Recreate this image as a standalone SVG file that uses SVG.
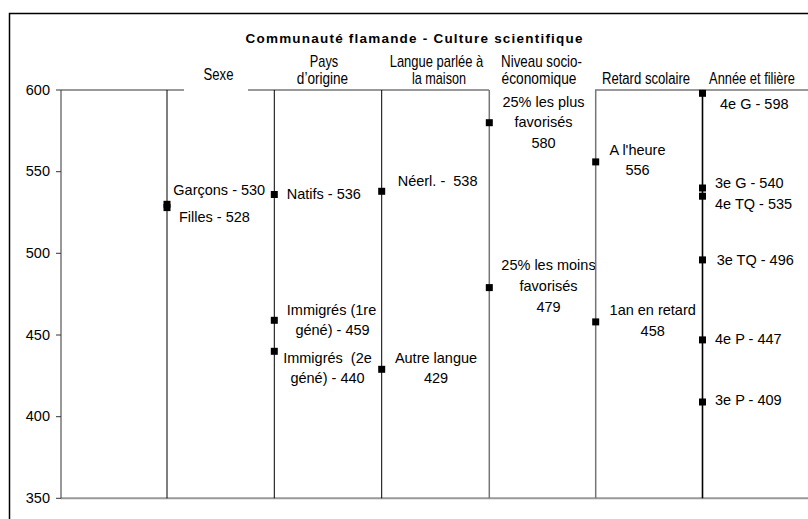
<svg xmlns="http://www.w3.org/2000/svg" width="808" height="519" viewBox="0 0 808 519">
<style>
  text{font-family:"Liberation Sans",Arial,sans-serif;fill:#000}
  .lbl{font-size:14.5px}
  .mid{text-anchor:middle}
  .hdr{font-size:16px;text-anchor:middle}
  .val{font-size:14.5px;text-anchor:end}
  .title{font-size:13.5px;font-weight:bold}
  .grid{stroke:#999;stroke-width:2;fill:none}
  .tick{stroke:#333;stroke-width:1}
  .ax{stroke:#000;stroke-width:1}
  .axg{stroke:#777;stroke-width:1.5}
  .axb{stroke:#000;stroke-width:1.6}
</style>
<defs>
  <rect id="m" x="-3.5" y="-3.5" width="7" height="7" fill="#000"/>
</defs>
<rect x="0" y="0" width="808" height="519" fill="#fff"/>
<path d="M9.5,519 V13.5 H808" fill="none" stroke="#000" stroke-width="1.5"/>

<text class="title" x="245.5" y="43" textLength="337">Communauté flamande - Culture scientifique</text>

<g id="headers">
  <g transform="translate(218.5,0) scale(0.82,1)"><text class="hdr" x="0" y="80.5">Sexe</text></g>
  <g transform="translate(324,0) scale(0.8,1)"><text class="hdr" x="0" y="67">Pays</text></g>
  <g transform="translate(322.5,0) scale(0.85,1)"><text class="hdr" x="0" y="84">d’origine</text></g>
  <g transform="translate(436.5,0) scale(0.81,1)"><text class="hdr" x="0" y="67">Langue parlée à</text></g>
  <g transform="translate(439,0) scale(0.79,1)"><text class="hdr" x="0" y="84">la maison</text></g>
  <g transform="translate(541.5,0) scale(0.835,1)"><text class="hdr" x="0" y="67">Niveau socio-</text></g>
  <g transform="translate(539,0) scale(0.86,1)"><text class="hdr" x="0" y="84">économique</text></g>
  <g transform="translate(646,0) scale(0.82,1)"><text class="hdr" x="0" y="84">Retard scolaire</text></g>
  <g transform="translate(752,0) scale(0.805,1)"><text class="hdr" x="0" y="84">Année et filière</text></g>
</g>

<g id="value-axis">
  <path class="grid" d="M61,90 H184 M248,90 H489 M595,90 H808 M61,498.3 H808"/>
  <line class="tick" x1="61" y1="90" x2="61" y2="498.3"/>
  <path class="tick" d="M56,90 H61 M56,171.7 H61 M56,253.3 H61 M56,335 H61 M56,416.7 H61 M56,498.3 H61"/>
  <text class="val" x="50" y="94.5">600</text>
  <text class="val" x="50" y="176.2">550</text>
  <text class="val" x="50" y="257.8">500</text>
  <text class="val" x="50" y="339.5">450</text>
  <text class="val" x="50" y="421.2">400</text>
  <text class="val" x="50" y="502.8">350</text>
</g>

<g id="sexe">
  <line class="ax" x1="167" y1="90" x2="167" y2="498.3"/>
  <use href="#m" x="167" y="204.3"/>
  <use href="#m" x="167" y="207.6"/>
  <text class="lbl" x="173.3" y="195">Garçons - 530</text>
  <text class="lbl" x="179" y="221.5">Filles - 528</text>
</g>

<g id="pays">
  <line class="ax" x1="274.3" y1="90" x2="274.3" y2="498.3"/>
  <use href="#m" x="274.3" y="194.5"/>
  <use href="#m" x="274.3" y="320.3"/>
  <use href="#m" x="274.3" y="351.3"/>
  <text class="lbl" x="286.7" y="199">Natifs - 536</text>
  <text class="lbl mid" x="331.5" y="315">Immigrés (1re</text>
  <text class="lbl mid" x="332.5" y="334.5">géné) - 459</text>
  <text class="lbl mid" x="327.5" y="363.3" xml:space="preserve">Immigrés  (2e</text>
  <text class="lbl mid" x="327.5" y="383.3">géné) - 440</text>
</g>

<g id="langue">
  <line class="ax" x1="381.7" y1="90" x2="381.7" y2="498.3"/>
  <use href="#m" x="381.7" y="191.3"/>
  <use href="#m" x="381.7" y="369.3"/>
  <text class="lbl" x="397.7" y="186" xml:space="preserve">Néerl. -  538</text>
  <text class="lbl mid" x="436" y="363.3">Autre langue</text>
  <text class="lbl mid" x="436" y="383.3">429</text>
</g>

<g id="niveau">
  <line class="axg" x1="489.3" y1="90" x2="489.3" y2="498.3"/>
  <use href="#m" x="489.3" y="122.7"/>
  <use href="#m" x="489.3" y="287.6"/>
  <text class="lbl mid" x="543.5" y="106.5">25% les plus</text>
  <text class="lbl mid" x="543.5" y="127">favorisés</text>
  <text class="lbl mid" x="543.5" y="147.5">580</text>
  <text class="lbl mid" x="548.5" y="270">25% les moins</text>
  <text class="lbl mid" x="548.5" y="291">favorisés</text>
  <text class="lbl mid" x="548.5" y="312">479</text>
</g>

<g id="retard">
  <line class="axg" x1="595.7" y1="90" x2="595.7" y2="498.3"/>
  <use href="#m" x="595.7" y="161.9"/>
  <use href="#m" x="595.7" y="321.9"/>
  <text class="lbl mid" x="637.5" y="155">A l'heure</text>
  <text class="lbl mid" x="637.5" y="175">556</text>
  <text class="lbl mid" x="652.7" y="315">1an en retard</text>
  <text class="lbl mid" x="652.7" y="336">458</text>
</g>

<g id="annee">
  <line class="axb" x1="702.5" y1="90" x2="702.5" y2="498.3"/>
  <use href="#m" x="702.5" y="93.3"/>
  <use href="#m" x="702.5" y="188"/>
  <use href="#m" x="702.5" y="196.2"/>
  <use href="#m" x="702.5" y="259.9"/>
  <use href="#m" x="702.5" y="339.9"/>
  <use href="#m" x="702.5" y="402"/>
  <text class="lbl" x="720" y="109.3">4e G - 598</text>
  <text class="lbl" x="715" y="188.3">3e G - 540</text>
  <text class="lbl" x="715" y="209.3">4e TQ - 535</text>
  <text class="lbl" x="716.7" y="265">3e TQ - 496</text>
  <text class="lbl" x="715" y="344">4e P - 447</text>
  <text class="lbl" x="715" y="405">3e P - 409</text>
</g>
</svg>
